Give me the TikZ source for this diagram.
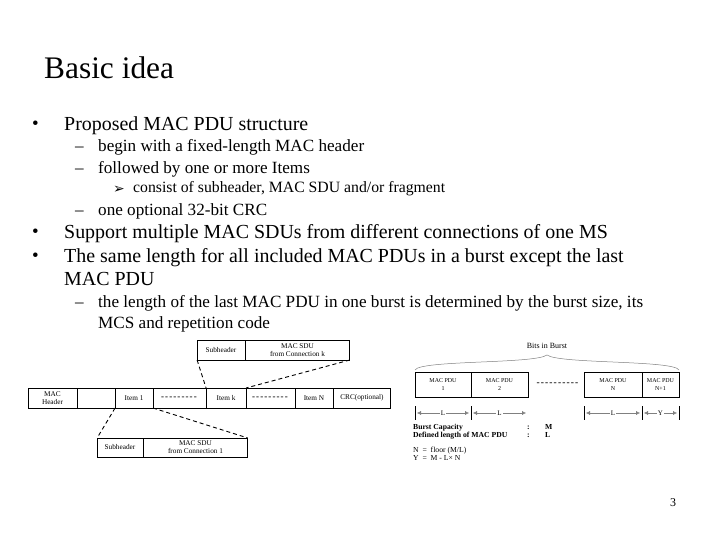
\documentclass[tikz,border=0pt]{standalone}
\usepackage{fontspec}
\setmainfont{Liberation Serif}
\newfontfamily\dejavu{DejaVu Sans}
\usetikzlibrary{arrows.meta,calc}
\newcommand\hy{\mbox{-}\kern1.1bp}
\newcommand\ninehy{\hy\hy\hy\hy\hy\hy\hy\hy\hy}
\begin{document}
\begin{tikzpicture}[x=1bp,y=-1bp,
  ln/.style={anchor=base west, inner sep=0},
  lv1/.style={ln, font=\fontsize{20}{24}\selectfont},
  lv2/.style={ln, font=\fontsize{17.2}{21}\selectfont},
  lv3/.style={ln, font=\fontsize{15.8}{18}\selectfont},
  bul/.style={ln, font=\fontsize{19}{22}\selectfont},
  cell/.style={draw, line width=0.8bp, inner sep=0, outer sep=0, minimum height=20bp, align=center, font=\fontsize{7.3}{8}\selectfont},
  pdu/.style={draw, line width=0.8bp, inner sep=0, outer sep=0, minimum height=25bp, align=center, font=\fontsize{6}{8}\selectfont},
  gapt/.style={inner sep=0, font=\fontsize{9.5}{10}\selectfont\bfseries},
  conn/.style={dash pattern=on 4bp off 3bp, line width=0.9bp},
  dim/.style={line width=0.4bp, draw=gray, {Latex[length=4bp,width=4bp]}-{Latex[length=4bp,width=4bp]}},
  dimlab/.style={fill=white, inner sep=1bp, font=\fontsize{7}{8}\selectfont},
  tick/.style={line width=0.7bp},
  small/.style={anchor=base west, inner sep=0, font=\fontsize{7.7}{9}\selectfont},
  smallb/.style={small, font=\fontsize{7.7}{9}\selectfont\bfseries}
]
\useasboundingbox (0,0) rectangle (720,540);

% title
\node[ln, font=\fontsize{31.5}{36}\selectfont] (title) at (44,79) {Basic idea};

% bullets
\node[bul] (m1) at (32,130) {•};
\node[lv1] (t1) at (64,131) {Proposed MAC PDU structure};
\node[lv2] (d1) at (75,152) {–};
\node[lv2] (t2) at (98,152) {begin with a fixed-length MAC header};
\node[lv2] (d2) at (75,174) {–};
\node[lv2] (t3) at (98,174) {followed by one or more Items};
\node[ln, font=\dejavu\fontsize{14}{16}\selectfont] (a1) at (113,194) {➢};
\node[lv3] (t4) at (133,193) {consist of subheader, MAC SDU and/or fragment};
\node[lv2] (d3) at (75,216) {–};
\node[lv2] (t5) at (98,216) {one optional 32-bit CRC};
\node[bul] (m2) at (32,238) {•};
\node[lv1] (t6) at (64,239) {Support multiple MAC SDUs from different connections of one MS};
\node[bul] (m3) at (32,262) {•};
\node[lv1] (t7) at (64,263) {The same length for all included MAC PDUs in a burst except the last};
\node[lv1] (t8) at (64,286) {MAC PDU};
\node[lv2] (d4) at (75,307) {–};
\node[lv2] (t9) at (98,307) {the length of the last MAC PDU in one burst is determined by the burst size, its};
\node[lv2] (t10) at (98,328) {MCS and repetition code};

% left diagram: main row
\node[cell, minimum width=49] (mh) at (52.5,398) {MAC\\Header};
\node[cell, minimum width=38] (em) at (96,398) {};
\node[cell, minimum width=38] (i1) at (134,398) {Item 1};
\node[cell, minimum width=53, font=\fontsize{9}{10}\selectfont\bfseries] (g1) at (179.5,398) {\ninehy};
\node[cell, minimum width=40] (ik) at (226,398) {Item k};
\node[cell, minimum width=49, font=\fontsize{9}{10}\selectfont\bfseries] (g2) at (270.5,398) {\ninehy};
\node[cell, minimum width=38] (iN) at (314,398) {Item N};
\node[cell, minimum width=58] (crc) at (362,398) {CRC(optional)};
% top box
\node[cell, minimum width=48] (tsh) at (221,350) {Subheader};
\node[cell, minimum width=105] (tsdu) at (297.5,350) {MAC SDU\\from Connection k};
% bottom box
\node[cell, minimum width=46, minimum height=19bp] (bsh) at (120,447.5) {Subheader};
\node[cell, minimum width=105, minimum height=19bp] (bsdu) at (195.5,447.5) {MAC SDU\\from Connection 1};
% dashed connectors
\draw[conn] (tsh.south west) -- (ik.north west);
\draw[conn] (tsdu.south east) -- (g2.north west);
\draw[conn] (i1.south west) -- (bsh.north west);
\draw[conn] (i1.south east) -- (bsdu.north east);

% right diagram
\node[pdu, minimum width=56] (p1) at (443,384.5) {MAC PDU\\1};
\node[pdu, minimum width=57] (p2) at (499.5,384.5) {MAC PDU\\2};
\node[pdu, minimum width=58] (pN) at (613,384.5) {MAC PDU\\N};
\node[pdu, minimum width=37] (pN1) at (660.5,384.5) {MAC PDU\\N+1};
\node[gapt] (gap) at (558,384) {\hy\hy\hy\hy\hy\hy\hy\hy\hy\hy};
\node[inner sep=0, font=\fontsize{8}{9}\selectfont] (bits) at (547,346) {Bits in Burst};
\coordinate (bl) at (415,370);
\coordinate (bm) at (547,355);
\coordinate (br) at (679,370);
\draw[gray, line width=0.5bp] (bl) .. controls (420,360) and (535,364) .. (bm) .. controls (559,364) and (674,360) .. (br);

% dimension ticks
\foreach \x/\n in {415/ka,471/kb,584/kc,642/kd,679/ke}{
  \coordinate (\n t) at (\x,406);
  \coordinate (\n b) at (\x,420);
  \draw[tick] (\n t) -- (\n b);
}
\coordinate (a1l) at (417,413); \coordinate (a1r) at (469,413);
\coordinate (a2l) at (473,413); \coordinate (a2r) at (526,413);
\coordinate (a3l) at (586,413); \coordinate (a3r) at (640,413);
\coordinate (a4l) at (644,413); \coordinate (a4r) at (677,413);
\draw[dim] (a1l) -- node[dimlab] (L1) {L} (a1r);
\draw[dim] (a2l) -- node[dimlab] (L2) {L} (a2r);
\draw[dim] (a3l) -- node[dimlab] (L3) {L} (a3r);
\draw[dim] (a4l) -- node[dimlab] (Y1) {Y} (a4r);

% legend
\node[smallb] (bc) at (413,429) {Burst Capacity};
\node[smallb] (bcc) at (527,429) {:};
\node[smallb] (bcm) at (545,429) {M};
\node[smallb] (dl) at (413,437) {Defined length of MAC PDU};
\node[smallb] (dlc) at (527,437) {:};
\node[smallb] (dll) at (545,437) {L};
\node[small] (nf) at (413,452) {N\ \ =\ \ floor (M/L)};
\node[small] (yf) at (413,460) {Y\ \ =\ \ M - L× N};

% page number
\node[font=\fontsize{12}{14}\selectfont, inner sep=0] (pg) at (673,503) {3};
\end{tikzpicture}
\end{document}
